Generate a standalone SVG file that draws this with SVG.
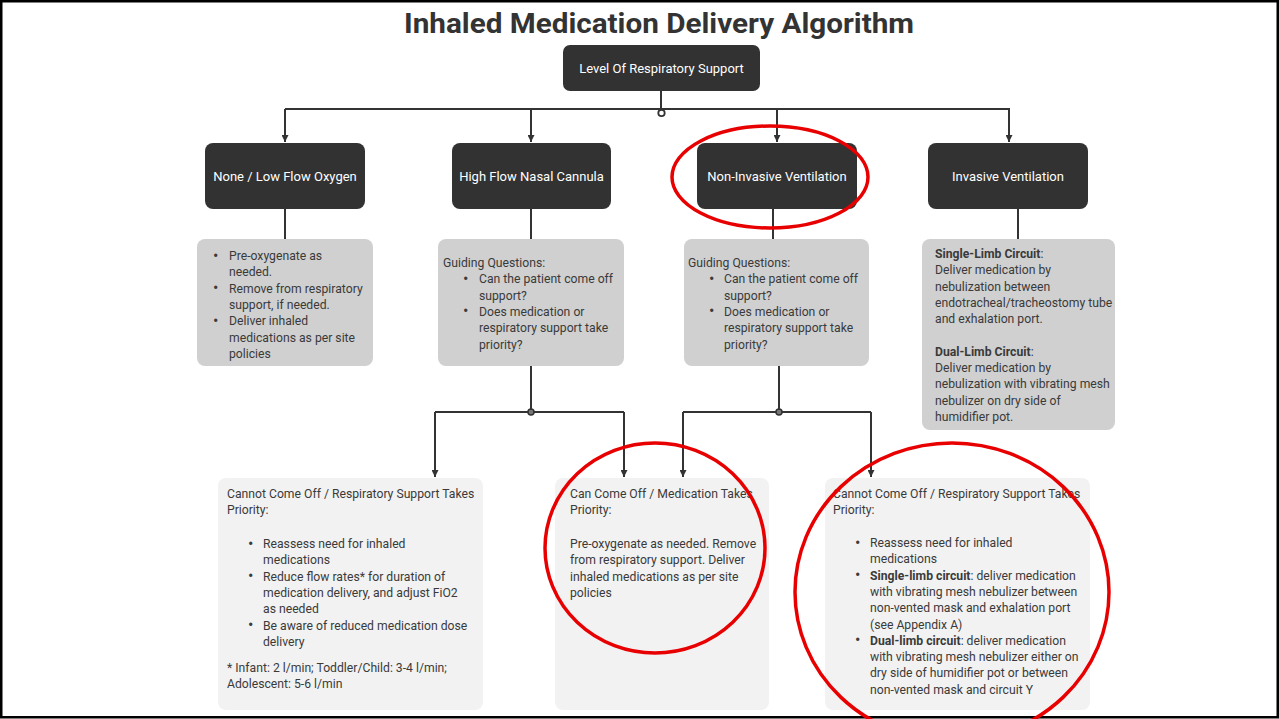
<svg xmlns="http://www.w3.org/2000/svg" width="1279" height="719" viewBox="0 0 1279 719">
<defs>
<marker id="arr" markerWidth="7" markerHeight="7" refX="7" refY="3.5" orient="auto" markerUnits="userSpaceOnUse" viewBox="0 0 7 7">
<path d="M0,0 L7,3.5 L0,7 Z" fill="#333"/>
</marker>
<style>
.dark{fill:#323232;}
.mid{fill:#d0d0d0;}
.light{fill:#f2f2f2;}
.nt{font-family:Roboto,"Liberation Sans",sans-serif;font-size:13px;fill:#ffffff;text-anchor:middle;}
.bt{font-family:Roboto,"Liberation Sans",sans-serif;font-size:12.2px;fill:#3a3a3a;}
.bu{font-size:16px;}
.b{font-weight:bold;}
.con{stroke:#333;stroke-width:2;fill:none;}
.red{stroke:#e80000;stroke-width:3.5;fill:none;}
</style>
</defs>
<rect x="1.25" y="1.25" width="1276.5" height="716" fill="#ffffff" stroke="#000" stroke-width="2.5"/>
<text x="659" y="33" font-family="Roboto,'Liberation Sans',sans-serif" font-size="28" font-weight="bold" fill="#333" text-anchor="middle" textLength="510" lengthAdjust="spacingAndGlyphs">Inhaled Medication Delivery Algorithm</text>

<g id="connectors">
<path class="con" d="M661,91 V110"/>
<path class="con" d="M285,109 H1010"/>
<path class="con" d="M285,109 V142" marker-end="url(#arr)"/>
<path class="con" d="M531,109 V142" marker-end="url(#arr)"/>
<path class="con" d="M777,109 V142" marker-end="url(#arr)"/>
<path class="con" d="M1009,109 V142" marker-end="url(#arr)"/>
<circle cx="661.5" cy="113" r="3.2" fill="#fff" stroke="#333" stroke-width="1.8"/>
<path class="con" d="M285,209 V239"/>
<path class="con" d="M531,209 V239"/>
<path class="con" d="M773,209 V239"/>
<path class="con" d="M1018,209 V239"/>
<path class="con" d="M531,366 V412"/>
<path class="con" d="M435,412 H624"/>
<path class="con" d="M435,412 V477" marker-end="url(#arr)"/>
<path class="con" d="M624,412 V477" marker-end="url(#arr)"/>
<circle cx="531" cy="412" r="3" fill="#777" stroke="#333" stroke-width="1.5"/>
<path class="con" d="M779,366 V412"/>
<path class="con" d="M683,412 H871"/>
<path class="con" d="M683,412 V477" marker-end="url(#arr)"/>
<path class="con" d="M871,412 V477" marker-end="url(#arr)"/>
<circle cx="779" cy="412" r="3" fill="#777" stroke="#333" stroke-width="1.5"/>
</g>

<g id="n-root">
<rect class="dark" x="563" y="45" width="197" height="46" rx="7"/>
<text class="nt" x="661.5" y="72.5">Level Of Respiratory Support</text>
</g>
<g id="n-none">
<rect class="dark" x="205" y="143" width="160" height="66" rx="8"/>
<text class="nt" x="285" y="180.5">None / Low Flow Oxygen</text>
</g>
<g id="n-hfnc">
<rect class="dark" x="452" y="143" width="159" height="66" rx="8"/>
<text class="nt" x="531.5" y="180.5">High Flow Nasal Cannula</text>
</g>
<g id="n-niv">
<rect class="dark" x="697" y="143" width="160" height="66" rx="8"/>
<text class="nt" x="777" y="180.5">Non-Invasive Ventilation</text>
</g>
<g id="n-iv">
<rect class="dark" x="928" y="143" width="160" height="66" rx="8"/>
<text class="nt" x="1008" y="181">Invasive Ventilation</text>
</g>

<g id="b-none">
<rect class="mid" x="197" y="239" width="176" height="127" rx="8"/>
<text class="bt">
<tspan x="213" y="260.5" class="bu">•</tspan><tspan x="229" y="260">Pre-oxygenate as</tspan>
<tspan x="229" y="276.3">needed.</tspan>
<tspan x="213" y="293.1" class="bu">•</tspan><tspan x="229" y="292.6">Remove from respiratory</tspan>
<tspan x="229" y="308.9">support, if needed.</tspan>
<tspan x="213" y="325.7" class="bu">•</tspan><tspan x="229" y="325.2">Deliver inhaled</tspan>
<tspan x="229" y="341.5">medications as per site</tspan>
<tspan x="229" y="357.8">policies</tspan>
</text>
</g>
<g id="b-hfnc">
<rect class="mid" x="438" y="239" width="186" height="127" rx="8"/>
<text class="bt">
<tspan x="443" y="267">Guiding Questions:</tspan>
<tspan x="463" y="283.8" class="bu">•</tspan><tspan x="479" y="283.3">Can the patient come off</tspan>
<tspan x="479" y="299.6">support?</tspan>
<tspan x="463" y="316.4" class="bu">•</tspan><tspan x="479" y="315.9">Does medication or</tspan>
<tspan x="479" y="332.2">respiratory support take</tspan>
<tspan x="479" y="348.5">priority?</tspan>
</text>
</g>
<g id="b-niv">
<rect class="mid" x="684" y="239" width="185" height="127" rx="8"/>
<text class="bt">
<tspan x="688" y="267">Guiding Questions:</tspan>
<tspan x="709" y="283.8" class="bu">•</tspan><tspan x="724" y="283.3">Can the patient come off</tspan>
<tspan x="724" y="299.6">support?</tspan>
<tspan x="709" y="316.4" class="bu">•</tspan><tspan x="724" y="315.9">Does medication or</tspan>
<tspan x="724" y="332.2">respiratory support take</tspan>
<tspan x="724" y="348.5">priority?</tspan>
</text>
</g>
<g id="b-iv">
<rect class="mid" x="922" y="239" width="193" height="191" rx="8"/>
<text class="bt">
<tspan x="935" y="258" class="b">Single-Limb Circuit</tspan><tspan>:</tspan>
<tspan x="935" y="274.3">Deliver medication by</tspan>
<tspan x="935" y="290.6">nebulization between</tspan>
<tspan x="935" y="306.9">endotracheal/tracheostomy tube</tspan>
<tspan x="935" y="323.2">and exhalation port.</tspan>
<tspan x="935" y="355.8" class="b">Dual-Limb Circuit</tspan><tspan>:</tspan>
<tspan x="935" y="372.1">Deliver medication by</tspan>
<tspan x="935" y="388.4">nebulization with vibrating mesh</tspan>
<tspan x="935" y="404.7">nebulizer on dry side of</tspan>
<tspan x="935" y="421">humidifier pot.</tspan>
</text>
</g>

<g id="b-hf-cannot">
<rect class="light" x="218" y="478" width="265" height="232" rx="8"/>
<text class="bt">
<tspan x="227" y="498">Cannot Come Off / Respiratory Support Takes</tspan>
<tspan x="227" y="514.3">Priority:</tspan>
<tspan x="248" y="548.5" class="bu">•</tspan><tspan x="263" y="548">Reassess need for inhaled</tspan>
<tspan x="263" y="564.3">medications</tspan>
<tspan x="248" y="581.1" class="bu">•</tspan><tspan x="263" y="580.6">Reduce flow rates* for duration of</tspan>
<tspan x="263" y="596.9">medication delivery, and adjust FiO2</tspan>
<tspan x="263" y="613.2">as needed</tspan>
<tspan x="248" y="630" class="bu">•</tspan><tspan x="263" y="629.5">Be aware of reduced medication dose</tspan>
<tspan x="263" y="645.8">delivery</tspan>
<tspan x="227" y="672">* Infant: 2 l/min; Toddler/Child: 3-4 l/min;</tspan>
<tspan x="227" y="688.3">Adolescent: 5-6 l/min</tspan>
</text>
</g>
<g id="b-can">
<rect class="light" x="555" y="478" width="214" height="232" rx="8"/>
<text class="bt">
<tspan x="570" y="498">Can Come Off / Medication Takes</tspan>
<tspan x="570" y="514.3">Priority:</tspan>
<tspan x="570" y="548">Pre-oxygenate as needed. Remove</tspan>
<tspan x="570" y="564.3">from respiratory support. Deliver</tspan>
<tspan x="570" y="580.6">inhaled medications as per site</tspan>
<tspan x="570" y="596.9">policies</tspan>
</text>
</g>
<g id="b-niv-cannot">
<rect class="light" x="825" y="478" width="265" height="232" rx="8"/>
<text class="bt">
<tspan x="833" y="498">Cannot Come Off / Respiratory Support Takes</tspan>
<tspan x="833" y="514.3">Priority:</tspan>
<tspan x="855" y="547.5" class="bu">•</tspan><tspan x="870" y="547">Reassess need for inhaled</tspan>
<tspan x="870" y="563.3">medications</tspan>
<tspan x="855" y="580.1" class="bu">•</tspan><tspan x="870" y="579.6" class="b">Single-limb circuit</tspan><tspan>: deliver medication</tspan>
<tspan x="870" y="595.9">with vibrating mesh nebulizer between</tspan>
<tspan x="870" y="612.2">non-vented mask and exhalation port</tspan>
<tspan x="870" y="628.5">(see Appendix A)</tspan>
<tspan x="855" y="645.3" class="bu">•</tspan><tspan x="870" y="644.8" class="b">Dual-limb circuit</tspan><tspan>: deliver medication</tspan>
<tspan x="870" y="661.1">with vibrating mesh nebulizer either on</tspan>
<tspan x="870" y="677.4">dry side of humidifier pot or between</tspan>
<tspan x="870" y="693.7">non-vented mask and circuit Y</tspan>
</text>
</g>

<g id="annotations">
<ellipse class="red" cx="770" cy="177" rx="98" ry="51"/>
<ellipse class="red" cx="655" cy="548" rx="110" ry="105"/>
<ellipse class="red" cx="952" cy="592" rx="157" ry="149"/>
</g>
</svg>
